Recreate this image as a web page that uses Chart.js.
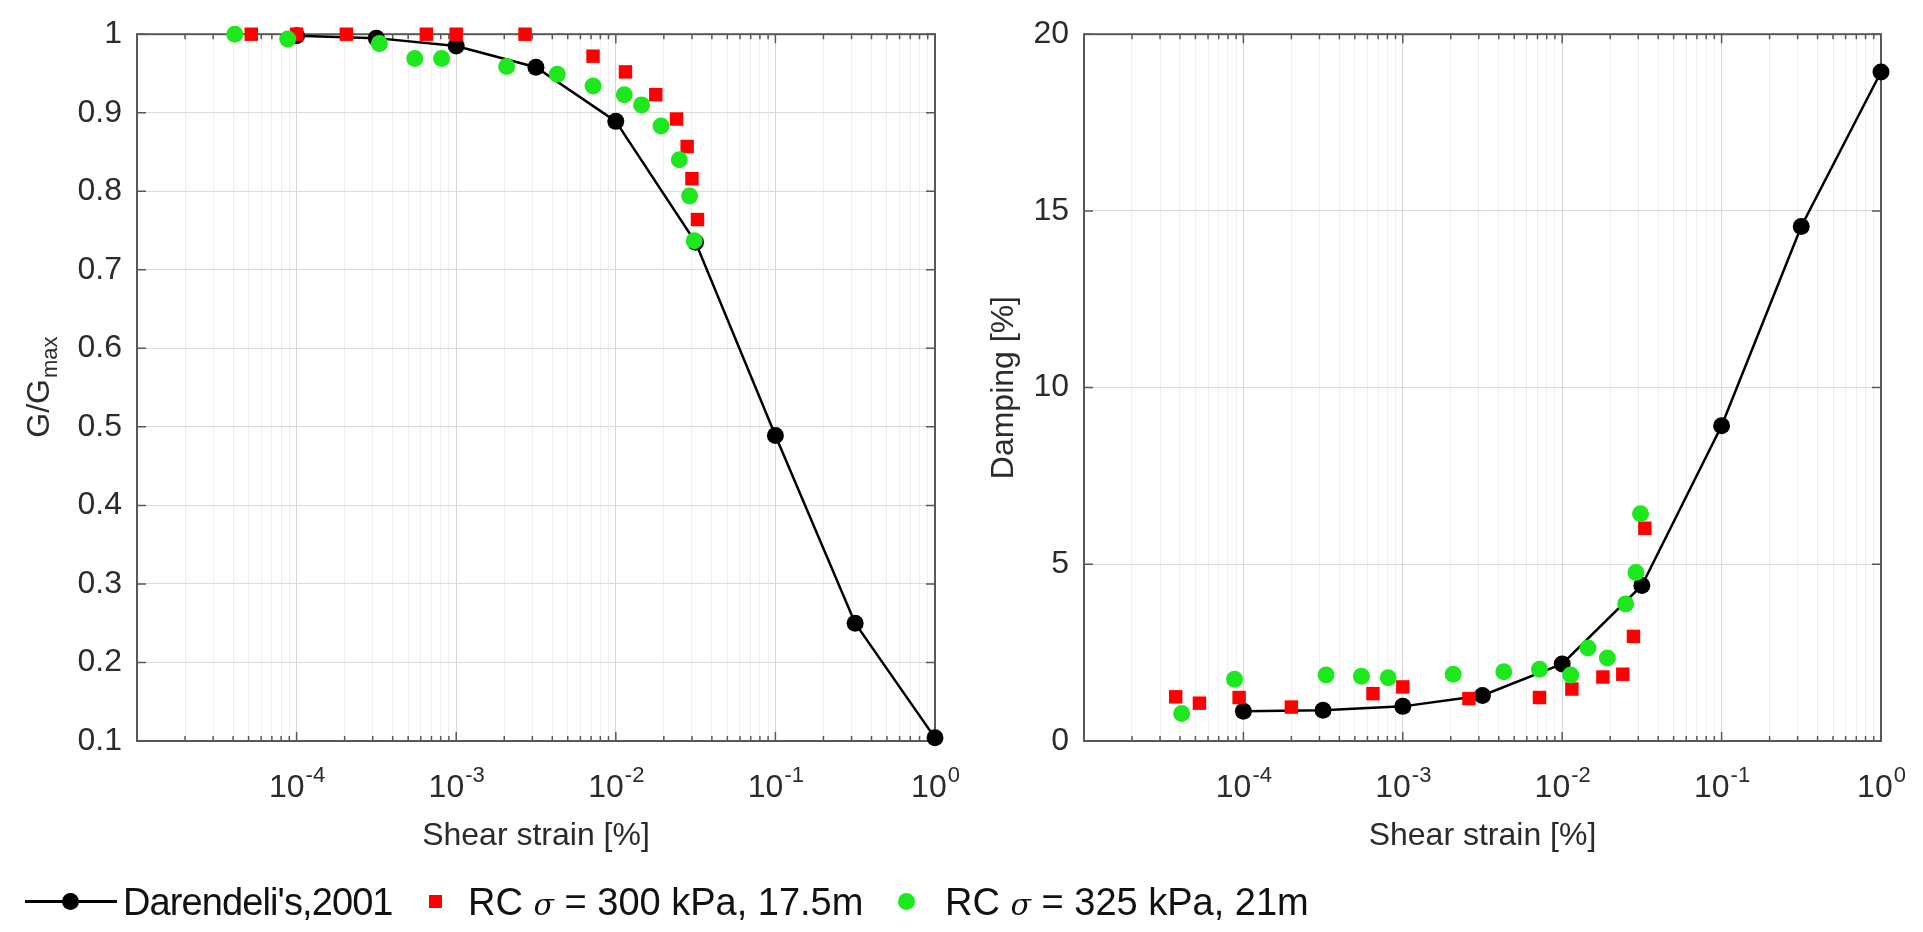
<!DOCTYPE html>
<html>
<head>
<meta charset="utf-8">
<script src="https://cdn.jsdelivr.net/npm/chart.js@4.4.0/dist/chart.umd.min.js"></script>
<style>
  body { margin: 0; background: #fff; width: 1923px; height: 932px; overflow: hidden; position: relative;
         font-family: "Liberation Sans", Arial, sans-serif; }
  canvas { position: absolute; top: 0; }
  #gChart { left: 0; }
  #dChart { left: 960px; }
  .lg { position: absolute; }
  .lgText { top: 880px; font-size: 38px; line-height: 44px; color: #111; white-space: nowrap; }
  .lgText i { font-family: "DejaVu Serif", serif; font-size: 30px; }
</style>
</head>
<body>
<canvas id="gChart" width="960" height="932"></canvas>
<canvas id="dChart" width="963" height="932"></canvas>

<div class="lg" style="left:25px; top:900px; width:92px; height:3px; background:#000;"></div>
<div class="lg" style="left:62px; top:893px; width:17px; height:17px; border-radius:50%; background:#000;"></div>
<div class="lg lgText" style="left:123px; letter-spacing:-0.9px;">Darendeli's,2001</div>
<div class="lg" style="left:429px; top:895px; width:13px; height:13px; background:#f00;"></div>
<div class="lg lgText" style="left:468px;">RC <i>σ</i> = 300 kPa, 17.5m</div>
<div class="lg" style="left:898px; top:893px; width:17px; height:17px; border-radius:50%; background:#1de81d;"></div>
<div class="lg lgText" style="left:945px;">RC <i>σ</i> = 325 kPa, 21m</div>

<script>
// Darendeli's (2001) curve
const darStrain = [1e-4, 3.16e-4, 1e-3, 3.16e-3, 1e-2, 3.16e-2, 1e-1, 3.16e-1, 1];
const darG = [0.998, 0.995, 0.985, 0.958, 0.889, 0.735, 0.489, 0.25, 0.104];
const darD = [0.84, 0.87, 0.98, 1.29, 2.18, 4.4, 8.92, 14.56, 18.93];

// RC sigma = 300 kPa, 17.5m
const redStrainG = [5.2e-5, 1e-4, 2.05e-4, 6.5e-4, 1e-3, 2.7e-3, 7.2e-3, 1.15e-2, 1.78e-2, 2.4e-2, 2.8e-2, 3.0e-2, 3.25e-2];
const redG = [1.0, 1.0, 1.0, 1.0, 1.0, 1.0, 0.972, 0.952, 0.923, 0.892, 0.857, 0.816, 0.764];
const redStrainD = [3.76e-5, 5.3e-5, 9.4e-5, 2.0e-4, 6.5e-4, 1.0e-3, 2.6e-3, 7.2e-3, 1.15e-2, 1.8e-2, 2.4e-2, 2.8e-2, 3.3e-2];
const redD = [1.25, 1.07, 1.23, 0.96, 1.34, 1.53, 1.2, 1.23, 1.47, 1.81, 1.89, 2.96, 6.02];

// RC sigma = 325 kPa, 21m
const greenStrain = [4.1e-5, 8.8e-5, 3.3e-4, 5.5e-4, 8.1e-4, 2.07e-3, 4.3e-3, 7.2e-3, 1.13e-2, 1.45e-2, 1.92e-2, 2.5e-2, 2.9e-2, 3.1e-2];
const greenG = [1.0, 0.994, 0.988, 0.969, 0.969, 0.959, 0.949, 0.934, 0.923, 0.91, 0.883, 0.84, 0.794, 0.737];
const greenD = [0.78, 1.75, 1.87, 1.83, 1.79, 1.89, 1.96, 2.03, 1.87, 2.63, 2.35, 3.88, 4.77, 6.43];

// axes
const decades = [-5, -4, -3, -2, -1, 0];
const labeledExp = [-4, -3, -2, -1, 0];
const gTicks = [0.1, 0.2, 0.3, 0.4, 0.5, 0.6, 0.7, 0.8, 0.9, 1];
const dTicks = [0, 5, 10, 15, 20];

const FONT = '"Liberation Sans", Arial, sans-serif';
const TXT = '#2b2b2b';

const logTicks = [];
decades.forEach(e => {
  for (let m = 1; m <= 9; m++) {
    if (e === 0 && m > 1) break;
    logTicks.push(m * Math.pow(10, e));
  }
});

function isDecade(v) {
  const e = Math.log10(v);
  return Math.abs(e - Math.round(e)) < 1e-6;
}

function pts(xs, ys) {
  return xs.map((x, i) => ({ x: x, y: ys[i] }));
}

// box, inward ticks, 10^n labels and subscripted y title, MATLAB style
const matlabAxes = {
  id: 'matlabAxes',
  beforeDatasetsDraw(chart) {
    const { ctx, chartArea: a, scales: { x, y } } = chart;
    ctx.save();
    ctx.strokeStyle = '#585858';
    ctx.lineWidth = 1.5;
    ctx.beginPath();
    x.ticks.forEach(t => {
      const px = x.getPixelForValue(t.value);
      const len = isDecade(t.value) ? 9 : 5;
      ctx.moveTo(px, a.bottom); ctx.lineTo(px, a.bottom - len);
      ctx.moveTo(px, a.top); ctx.lineTo(px, a.top + len);
    });
    y.ticks.forEach(t => {
      const py = y.getPixelForValue(t.value);
      ctx.moveTo(a.left, py); ctx.lineTo(a.left + 9, py);
      ctx.moveTo(a.right, py); ctx.lineTo(a.right - 9, py);
    });
    ctx.stroke();
    ctx.lineWidth = 2;
    ctx.strokeRect(a.left, a.top, a.right - a.left, a.bottom - a.top);
    ctx.restore();
  },
  afterDraw(chart, args, opts) {
    const { ctx, chartArea: a, scales: { x } } = chart;
    ctx.save();
    ctx.fillStyle = TXT;
    ctx.textBaseline = 'alphabetic';
    ctx.textAlign = 'left';
    labeledExp.forEach(e => {
      const px = x.getPixelForValue(Math.pow(10, e));
      const sup = String(e);
      ctx.font = '32px ' + FONT;
      const wBase = ctx.measureText('10').width;
      ctx.font = '22px ' + FONT;
      const wSup = ctx.measureText(sup).width;
      const start = px - (wBase + wSup) / 2;
      ctx.font = '32px ' + FONT;
      ctx.fillText('10', start, 797);
      ctx.font = '22px ' + FONT;
      ctx.fillText(sup, start + wBase + 1, 782);
    });
    if (opts.yTitle) {
      ctx.translate(opts.yTitleX, (a.top + a.bottom) / 2);
      ctx.rotate(-Math.PI / 2);
      ctx.font = '32px ' + FONT;
      const wMain = ctx.measureText(opts.yTitle).width;
      ctx.font = '22px ' + FONT;
      const wSub = ctx.measureText(opts.ySub).width;
      const start = -(wMain + wSub) / 2;
      ctx.font = '32px ' + FONT;
      ctx.fillText(opts.yTitle, start, 11);
      ctx.font = '22px ' + FONT;
      ctx.fillText(opts.ySub, start + wMain + 1, 19);
    }
    ctx.restore();
  }
};

function datasets(curve, redX, redY, greenY) {
  return [{
    label: "Darendeli's,2001",
    data: pts(darStrain, curve),
    showLine: true,
    tension: 0,
    borderColor: '#000',
    borderWidth: 2.5,
    pointRadius: 8.5,
    pointBackgroundColor: '#000',
    pointBorderWidth: 0,
    clip: false,
    order: 3
  }, {
    label: 'RC σ = 300 kPa, 17.5m',
    data: pts(redX, redY),
    pointStyle: 'rect',
    pointRadius: 9.5,
    pointBackgroundColor: '#f00',
    pointBorderWidth: 0,
    clip: false,
    order: 2
  }, {
    label: 'RC σ = 325 kPa, 21m',
    data: pts(greenStrain, greenY),
    pointStyle: 'circle',
    pointRadius: 8.5,
    pointBackgroundColor: '#1de81d',
    pointBorderWidth: 0,
    clip: false,
    order: 1
  }];
}

function xScale() {
  return {
    type: 'logarithmic',
    position: 'bottom',
    min: 1e-5,
    max: 1,
    afterBuildTicks: s => { s.ticks = logTicks.map(v => ({ value: v })); },
    afterFit: s => { s.height = 120; },
    ticks: { display: false },
    border: { display: false },
    grid: {
      drawTicks: false,
      lineWidth: 1,
      color: c => (c.tick && isDecade(c.tick.value)) ? '#d6d6d6' : '#efefef'
    },
    title: {
      display: true,
      text: 'Shear strain [%]',
      color: TXT,
      font: { family: FONT, size: 32 },
      padding: { top: 0, bottom: 6 }
    }
  };
}

function yScale(min, max, list, width, title) {
  return {
    type: 'linear',
    min: min,
    max: max,
    afterBuildTicks: s => { s.ticks = list.map(v => ({ value: v })); },
    afterFit: s => { s.width = width; },
    ticks: {
      color: TXT,
      padding: 15,
      font: { family: FONT, size: 32 },
      callback: v => String(v)
    },
    border: { display: false },
    grid: { drawTicks: false, color: '#dcdcdc', lineWidth: 1 },
    title: title ? {
      display: true,
      text: title,
      color: TXT,
      font: { family: FONT, size: 32 },
      padding: { top: 25, bottom: 0 }
    } : { display: false }
  };
}

new Chart(document.getElementById('gChart'), {
  type: 'scatter',
  data: { datasets: datasets(darG, redStrainG, redG, greenG) },
  options: {
    responsive: false,
    animation: false,
    events: [],
    layout: { padding: { top: 24, right: 25, bottom: 71, left: 0 } },
    scales: {
      x: xScale(),
      y: yScale(0.1, 1, gTicks, 137, null)
    },
    plugins: {
      legend: { display: false },
      tooltip: { enabled: false },
      matlabAxes: { yTitle: 'G/G', ySub: 'max', yTitleX: 38 }
    }
  },
  plugins: [matlabAxes]
});

new Chart(document.getElementById('dChart'), {
  type: 'scatter',
  data: { datasets: datasets(darD, redStrainD, redD, greenD) },
  options: {
    responsive: false,
    animation: false,
    events: [],
    layout: { padding: { top: 24, right: 42, bottom: 71, left: 0 } },
    scales: {
      x: xScale(),
      y: yScale(0, 20, dTicks, 124, 'Damping [%]')
    },
    plugins: {
      legend: { display: false },
      tooltip: { enabled: false },
      matlabAxes: { yTitle: null }
    }
  },
  plugins: [matlabAxes]
});
</script>
</body>
</html>
